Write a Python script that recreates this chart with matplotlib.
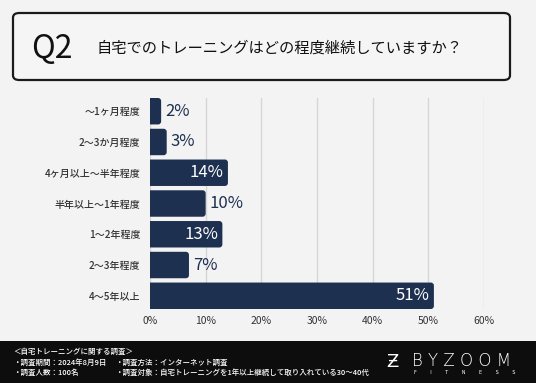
import matplotlib
matplotlib.use("Agg")
import matplotlib.pyplot as plt
from matplotlib.patches import FancyBboxPatch, Rectangle

plt.rcParams['font.family'] = ['Noto Sans CJK JP', 'DejaVu Sans']

categories = ["～1ヶ月程度", "2～3か月程度", "4ヶ月以上～半年程度", "半年以上～1年程度",
              "1～2年程度", "2～3年程度", "4～5年以上"]
values = [2, 3, 14, 10, 13, 7, 51]
inside = [False, False, True, False, True, False, True]
xticks = [0, 10, 20, 30, 40, 50, 60]
xtick_labels = ["0%", "10%", "20%", "30%", "40%", "50%", "60%"]
title_q = "Q2"
title_text = "自宅でのトレーニングはどの程度継続していますか？"
footer_lines = [
    ("＜自宅トレーニングに関する調査＞", ""),
    ("・調査期間：2024年8月9日", "・調査方法：インターネット調査"),
    ("・調査人数：100名", "・調査対象：自宅トレーニングを1年以上継続して取り入れている30～40代"),
]

BG = "#f3f3f3"
NAVY = "#1e3050"
W, H = 536, 383

fig = plt.figure(figsize=(W / 100, H / 100), dpi=100, facecolor=BG)

# Title box
box = FancyBboxPatch((13 / W, 1 - 80 / H), 497 / W, 67 / H,
                     boxstyle="round,pad=0,rounding_size=0.012",
                     transform=fig.transFigure, facecolor="#f5f5f5",
                     edgecolor="#1a1a1a", linewidth=1.6)
fig.patches.append(box)
fig.text(31 / W, 1 - 49 / H, title_q, fontsize=23, color="#111111",
         va="center", ha="left")
fig.text(97 / W, 1 - 48 / H, title_text, fontsize=11, color="#111111",
         va="center", ha="left")

# Footer band
fig.patches.append(Rectangle((0, 0), 1, 42 / H, transform=fig.transFigure,
                             facecolor="#0d0d0d", edgecolor="none"))
ys = [352, 363, 373]
for (a, b), y in zip(footer_lines, ys):
    fig.text(13 / W, 1 - y / H, a, fontsize=5.4, color="white", va="center",
             fontweight="medium")
    if b:
        fig.text(115 / W, 1 - y / H, b, fontsize=5.4, color="white", va="center",
                 fontweight="medium")
fig.text(386 / W, 1 - 362 / H, "Ƶ", fontsize=13, color="white", va="center",
         family=['DejaVu Sans'])
fig.text(412 / W, 1 - 361 / H, "B Y Z O O M", fontsize=12, color="white",
         va="center", family=['DejaVu Sans'], fontweight='light')
fig.text(414 / W, 1 - 373 / H,
         "F         I         T         N         E         S         S",
         fontsize=3.5, color="white", va="center", family=['DejaVu Sans'])

# Chart
ax = fig.add_axes([150 / W, 1 - 309 / H, 334 / W, 211 / H])
ax.set_facecolor(BG)
ypos = list(range(len(categories)))
bars = ax.barh(ypos, values, height=0.86, color=NAVY, zorder=3)
ax.set_xlim(0, 60)
ax.set_ylim(len(categories) - 0.57, -0.43)

# rounded right ends
fig.canvas.draw()
px_per_x = ax.transData.transform((1, 0))[0] - ax.transData.transform((0, 0))[0]
px_per_y = abs(ax.transData.transform((0, 1))[1] - ax.transData.transform((0, 0))[1])
for bar in bars:
    bar.set_visible(False)
    x0, y0, w, h = bar.get_x(), bar.get_y(), bar.get_width(), bar.get_height()
    p = FancyBboxPatch((x0 - 2, y0), w + 2, h,
                       boxstyle="round,pad=0,rounding_size=0.55",
                       mutation_aspect=px_per_x / px_per_y,
                       facecolor=NAVY, edgecolor="none", zorder=3)
    p.set_clip_path(ax.patch)
    ax.add_patch(p)

ax.set_xticks(xticks)
ax.set_xticklabels(xtick_labels, fontsize=7.5, color="#333333")
ax.set_yticks(ypos)
ax.set_yticklabels(categories, fontsize=7.2, color="#333333", fontweight="medium")
ax.tick_params(axis='both', length=0)
ax.tick_params(axis='y', pad=7)
ax.tick_params(axis='x', pad=5)
ax.grid(axis='x', color="#d6d6d6", linewidth=1, zorder=0)
for s in ax.spines.values():
    s.set_visible(False)

for bar, v, ins in zip(bars, values, inside):
    yc = bar.get_y() + bar.get_height() / 2
    if ins:
        ax.annotate(f"{v}%", (v, yc), xytext=(-3, 0), textcoords="offset points",
                    ha="right", va="center", fontsize=12, color="white", zorder=4)
    else:
        ax.annotate(f"{v}%", (v, yc), xytext=(3, 0), textcoords="offset points",
                    ha="left", va="center", fontsize=12, color=NAVY, zorder=4)

fig.savefig("out.png", dpi=100, facecolor=BG)
